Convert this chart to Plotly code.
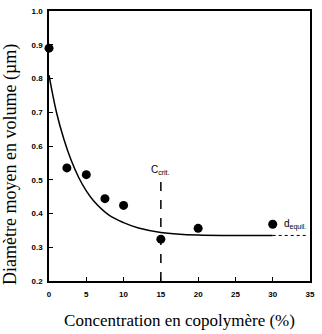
import plotly.graph_objects as go

# measured points
conc = [0, 2.4, 5, 7.5, 10, 15, 20, 30]
diam = [0.89, 0.535, 0.515, 0.444, 0.424, 0.324, 0.356, 0.368]

# fitted curve
curve_x = [0, 1, 2, 3, 4, 5, 6, 8, 10, 12, 15, 20, 25, 30]
curve_y = [0.81, 0.70, 0.62, 0.556, 0.506, 0.467, 0.437, 0.396, 0.373, 0.357, 0.344, 0.336, 0.335, 0.335]

# equilibrium diameter and critical concentration
d_equil = 0.335
equil_x = [30, 34.5]
c_crit = 15
crit_y = [0.2, 0.5]

x_ticks = [0, 5, 10, 15, 20, 25, 30, 35]
y_ticks = [0.2, 0.3, 0.4, 0.5, 0.6, 0.7, 0.8, 0.9, 1.0]

fig = go.Figure()
fig.add_trace(go.Scatter(x=curve_x, y=curve_y, mode="lines", line=dict(color="black", width=1.5, shape="spline"),
                         showlegend=False, hoverinfo="skip"))
fig.add_trace(go.Scatter(x=equil_x, y=[d_equil, d_equil], mode="lines",
                         line=dict(color="black", width=1, dash="dot"), showlegend=False))
fig.add_trace(go.Scatter(x=[c_crit, c_crit], y=crit_y, mode="lines",
                         line=dict(color="black", width=1.5, dash="dash"), showlegend=False))
fig.add_trace(go.Scatter(x=conc, y=diam, mode="markers", marker=dict(color="black", size=9),
                         showlegend=False, cliponaxis=False))

fig.add_annotation(x=c_crit, y=0.505, xref="x", yref="y", text="C<sub>crit.</sub>", showarrow=False,
                   xanchor="center", yanchor="bottom", font=dict(family="Liberation Sans", size=10, color="black"))
fig.add_annotation(x=31.3, y=0.368, xref="x", yref="y", text="d<sub>equil.</sub>", showarrow=False,
                   xanchor="left", yanchor="middle", font=dict(family="Liberation Sans", size=10, color="black"))
# y-axis title placed as annotation to match the reference position
fig.add_annotation(x=-0.147, y=0.432, xref="paper", yref="paper", text="Diamètre moyen en volume (µm)",
                   textangle=-90, showarrow=False, xanchor="center", yanchor="middle",
                   font=dict(family="Liberation Serif", size=18, color="black"))

tickfont = dict(family="Liberation Sans", size=8, color="black", weight="bold")
fig.update_xaxes(range=[0, 35], tickvals=x_ticks, ticktext=[str(v) for v in x_ticks],
                 showgrid=False, zeroline=False, showline=True, linecolor="black", linewidth=1.5,
                 mirror=True, ticks="inside", ticklen=4, tickcolor="black", tickfont=tickfont,
                 ticklabelstandoff=5,
                 title=dict(text="Concentration en copolymère (%)", standoff=16,
                            font=dict(family="Liberation Serif", size=17, color="black")))
fig.update_yaxes(range=[0.2, 1.0], tickvals=y_ticks, ticktext=[f"{v:.1f}" for v in y_ticks],
                 showgrid=False, zeroline=False, showline=True, linecolor="black", linewidth=1.5,
                 mirror=True, ticks="inside", ticklen=4, tickcolor="black", tickfont=tickfont,
                 ticklabelstandoff=3)

fig.update_layout(width=322, height=334, margin=dict(l=49, r=7, t=10, b=51),
                  plot_bgcolor="white", paper_bgcolor="white")
fig.write_html("out.html")
